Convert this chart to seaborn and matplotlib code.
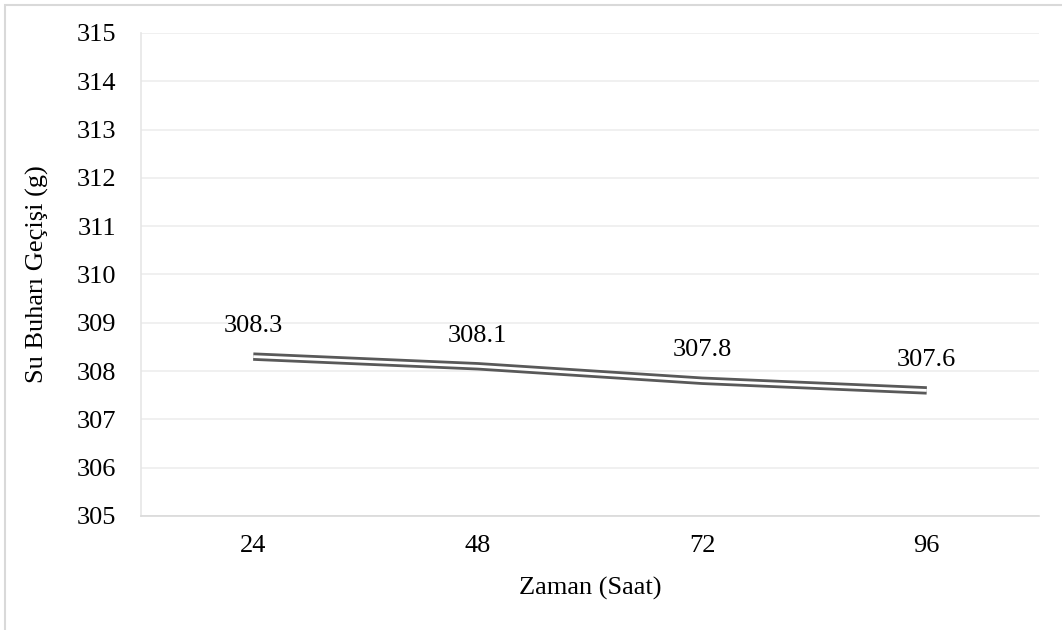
import matplotlib
matplotlib.use("Agg")
import matplotlib.pyplot as plt
import matplotlib.patheffects as pe
import seaborn as sns
import pandas as pd

# data
hours = ["24", "48", "72", "96"]
vapour = [308.3, 308.1, 307.8, 307.6]
value_labels = ["308.3", "308.1", "307.8", "307.6"]

sns.set_theme(style="white")
plt.rcParams['font.family'] = ['Liberation Serif', 'DejaVu Serif']

df = pd.DataFrame({'Zaman': hours, 'Gecis': vapour})

fig = plt.figure(figsize=(10.62, 6.30), dpi=100)
ax = fig.add_axes([141 / 1062, 114 / 630, 898 / 1062, 483 / 630])

# outer chart border (only top/left visible in the reference)
fig.patches.append(plt.Rectangle((5 / 1062, -0.05), 1.2, (625 / 630) + 0.05,
                                 transform=fig.transFigure, fill=False,
                                 edgecolor='#D9D9D9', linewidth=1.5))

# double line: dark stroke with a white core
sns.lineplot(data=df, x='Zaman', y='Gecis', ax=ax, color='white', linewidth=2.0,
             sort=False, solid_capstyle='butt',
             path_effects=[pe.Stroke(linewidth=6.0, foreground='#595959', capstyle='butt'),
                           pe.Normal()])

for i, (v, lab) in enumerate(zip(vapour, value_labels)):
    ax.annotate(lab, (i, v), xytext=(0, 14), textcoords='offset points',
                ha='center', va='bottom', fontsize=19, color='black')

ax.set_ylim(305, 315)
ax.set_xlim(-0.5, 3.5)
ax.set_yticks(range(305, 316))
ax.grid(axis='y', color='#EDEDED', linewidth=1.2)
ax.grid(axis='x', visible=False)
ax.set_axisbelow(True)

for side in ['top', 'right']:
    ax.spines[side].set_visible(False)
ax.spines['left'].set_color('#E6E6E6')
ax.spines['bottom'].set_color('#D9D9D9')
ax.spines['left'].set_linewidth(1.2)
ax.spines['bottom'].set_linewidth(1.2)

ax.tick_params(axis='y', length=0, pad=18, labelsize=19, labelcolor='black')
ax.tick_params(axis='x', length=0, pad=14, labelsize=19, labelcolor='black')

ax.set_xlabel('Zaman (Saat)', fontsize=19, color='black', labelpad=14)
ax.set_ylabel('Su Buharı Geçişi (g)', fontsize=19, color='black', labelpad=20)

fig.savefig('out.png', dpi=100)
